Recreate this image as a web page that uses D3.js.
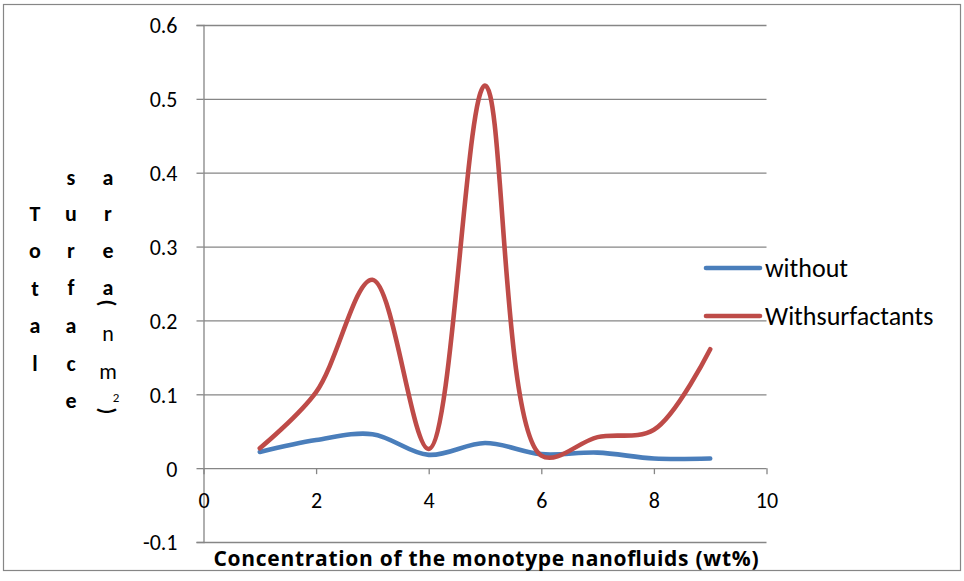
<!DOCTYPE html>
<html>
<head>
<meta charset="utf-8">
<script src="https://cdn.jsdelivr.net/npm/d3@7"></script>
<style>
  html, body { margin: 0; padding: 0; background: #fff; }
  svg { display: block; font-family: Carlito, Lato, sans-serif; }
  text { fill: #000; }
</style>
</head>
<body>
<svg id="chart" width="964" height="581"></svg>
<script>
// Concentration (wt%) of the monotype nanofluids
const concentration = [1, 2, 3, 4, 5, 6, 7, 8, 9];
// Total surface area (nm2)
const withoutSurfactant = [0.022, 0.038, 0.046, 0.018, 0.034, 0.019, 0.021, 0.013, 0.013];
const withSurfactants   = [0.027, 0.103, 0.255, 0.026, 0.518, 0.017, 0.042, 0.052, 0.161];
const seriesNames = ["without", "Withsurfactants"];
const xTicks = [0, 2, 4, 6, 8, 10];
const yTicks = [-0.1, 0, 0.1, 0.2, 0.3, 0.4, 0.5, 0.6];
const xTitle = "Concentration of the monotype nanofluids (wt%)";

const svg = d3.select("#chart");
const grey = "#868686";
const colors = ["#4a7ebb", "#be4b48"];
const fontFamily = "Carlito, Lato, sans-serif";

// outer chart frame
svg.append("rect")
  .attr("x", 3.5).attr("y", 4.5).attr("width", 957).attr("height", 566)
  .attr("fill", "#fff").attr("stroke", grey).attr("stroke-width", 1.2);

const x = d3.scaleLinear().domain([0, 10]).range([203.5, 766.5]);
const y = d3.scaleLinear().domain([-0.1, 0.6]).range([542, 25]);

// horizontal gridlines with left tick marks
const yAxis = d3.axisLeft(y).tickValues(yTicks)
  .tickSize(7).tickPadding(19)
  .tickFormat(d => d3.format(".1f")(d).replace("0.0", "0").replace("−", "-"));
const gy = svg.append("g").attr("transform", `translate(${x(0)},0)`).call(yAxis);
gy.select(".domain").attr("stroke", grey).attr("stroke-width", 1.3);
gy.selectAll(".tick line").attr("stroke", grey).attr("stroke-width", 1.3);
gy.selectAll(".tick text").attr("font-size", 22).attr("font-family", fontFamily)
  .attr("dy", "0.36em");
gy.selectAll(".tick").append("line")
  .attr("x1", 0).attr("x2", x(10) - x(0))
  .attr("stroke", grey).attr("stroke-width", 1.3);

// x axis drawn along y = 0
const xAxis = d3.axisBottom(x).tickValues(xTicks).tickSize(6).tickPadding(18);
const gx = svg.append("g").attr("transform", `translate(0,${y(0)})`).call(xAxis);
gx.select(".domain").remove();
gx.selectAll(".tick line").attr("stroke", grey).attr("stroke-width", 1.3);
gx.selectAll(".tick text").attr("font-size", 22).attr("font-family", fontFamily);

// series lines
const seriesData = [withoutSurfactant, withSurfactants];
const line = d3.line()
  .x((d, i) => x(concentration[i]))
  .y(d => y(d))
  .curve(d3.curveCatmullRom.alpha(0.5));
seriesData.forEach((vals, k) => {
  svg.append("path")
    .datum(vals)
    .attr("d", line)
    .attr("fill", "none")
    .attr("stroke", colors[k])
    .attr("stroke-width", 4.6)
    .attr("stroke-linecap", "round")
    .attr("stroke-linejoin", "round");
});

// legend
const legendY = [268, 316];
seriesNames.forEach((name, k) => {
  svg.append("line")
    .attr("x1", 706).attr("x2", 760)
    .attr("y1", legendY[k]).attr("y2", legendY[k])
    .attr("stroke", colors[k]).attr("stroke-width", 4.6)
    .attr("stroke-linecap", "round");
  svg.append("text")
    .attr("x", 765).attr("y", legendY[k])
    .attr("dy", "0.36em")
    .attr("font-family", fontFamily)
    .attr("font-size", 26)
    .text(name);
});

// x axis title
svg.append("text")
  .attr("x", 486).attr("y", 566)
  .attr("text-anchor", "middle")
  .attr("font-family", "'Open Sans', Lato, sans-serif")
  .attr("font-size", 21).attr("font-weight", "bold")
  .attr("textLength", 545).attr("lengthAdjust", "spacing")
  .text(xTitle);

// y axis title, stacked letter columns
const yTitleCols = [
  { x: 35, letters: ["T", "o", "t", "a", "l"], ys: [213, 250, 288, 325, 363] },
  { x: 71, letters: ["s", "u", "r", "f", "a", "c", "e"], ys: [177, 213, 250, 287, 325, 363, 400] },
  { x: 108, letters: ["a", "r", "e", "a", "n", "m"], ys: [177, 213, 250, 287, 333, 371],
    weights: ["bold", "bold", "bold", "bold", "normal", "normal"] }
];
yTitleCols.forEach(col => {
  col.letters.forEach((ch, i) => {
    svg.append("text")
      .attr("x", col.x).attr("y", col.ys[i])
      .attr("dy", "0.36em")
      .attr("text-anchor", "middle")
      .attr("font-family", fontFamily)
      .attr("font-size", 22)
      .attr("font-weight", col.weights ? col.weights[i] : "bold")
      .text(ch);
  });
});
// rotated parentheses and superscript
[["(", 303], [")", 411]].forEach(([ch, cy]) => {
  svg.append("text")
    .attr("transform", `translate(108,${cy}) rotate(90)`)
    .attr("dy", "0.36em")
    .attr("text-anchor", "middle")
    .attr("font-family", fontFamily)
    .attr("font-size", 22).attr("font-weight", "bold")
    .text(ch);
});
svg.append("text")
  .attr("x", 116).attr("y", 397)
  .attr("dy", "0.36em")
  .attr("text-anchor", "middle")
  .attr("font-family", fontFamily)
  .attr("font-size", 13)
  .text("2");
</script>
</body>
</html>
